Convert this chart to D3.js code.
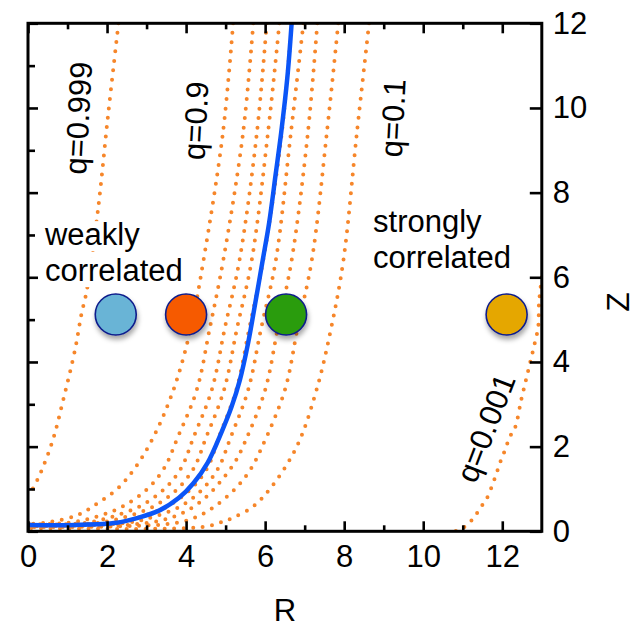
<!DOCTYPE html>
<html><head><meta charset="utf-8">
<script src="https://cdn.jsdelivr.net/npm/d3@7"></script>
<style>
body{margin:0;background:#fff}
text{font-family:"Liberation Sans",Arial,Helvetica,sans-serif;fill:#000}
</style>
</head><body>
<svg id="c" width="635" height="629"></svg>
<script>
// ---- data ----
const xMajor = [0, 2, 4, 6, 8, 10, 12];
const xMinor = [1, 3, 5, 7, 9, 11];
const yMajor = [0, 2, 4, 6, 8, 10, 12];
const yMinor = [1, 3, 5, 7, 9, 11];

// dotted orange quantile curves, [R, Z]
const q0999 = [[2.29,12],[2.02,9.78],[1.77,7.59],[1.49,5.70],[1.35,5.12],[1.19,4.29],[0.89,3.1],[0.63,2.16],[0.35,1.45],[0.13,1.02],[0,0.85]];
const q09 = [[5.19,12],[4.93,9.4],[4.44,6.4],[4.12,4.8],[3.68,3.34],[3.16,2.2],[2.71,1.5],[2.28,1.02],[1.77,0.67],[1.27,0.39],[0.56,0.22],[0,0.17]];
const q08 = [[5.70,12],[5.44,9.4],[4.94,6.4],[4.60,4.8],[4.27,3.34],[3.78,2.2],[3.45,1.5],[3.02,1.0],[2.42,0.6],[1.75,0.35],[1.0,0.2],[0,0.16]];
const q07 = [[6.04,12],[5.79,9.4],[5.35,6.4],[4.98,4.8],[4.65,3.34],[4.18,2.2],[3.88,1.5],[3.45,1.0],[2.85,0.6],[2.15,0.35],[1.45,0.2],[0,0.15]];
const q06 = [[6.36,12],[6.07,9.4],[5.66,6.4],[5.29,4.8],[4.96,3.34],[4.50,2.2],[4.20,1.5],[3.78,1.0],[3.20,0.6],[2.50,0.35],[1.80,0.2],[0,0.14]];
const q05 = [[6.67,12],[6.42,9.4],[5.95,6.4],[5.60,4.8],[5.27,3.34],[4.82,2.2],[4.54,1.5],[4.12,1.0],[3.55,0.6],[2.88,0.35],[2.24,0.2],[0,0.13]];
const q04 = [[6.97,12],[6.65,9.4],[6.27,6.4],[5.90,4.8],[5.57,3.34],[5.12,2.2],[4.82,1.5],[4.42,1.0],[3.88,0.6],[3.20,0.35],[2.50,0.2],[0,0.12]];
const q03 = [[7.32,12],[7.08,9.4],[6.67,6.4],[6.32,4.8],[6.00,3.34],[5.49,2.11],[5.24,1.64],[4.90,1.21],[4.48,0.79],[3.97,0.46],[3.42,0.27],[2.5,0.15],[0,0.11]];
const q02 = [[7.85,12],[7.56,9.4],[7.18,6.4],[6.82,4.8],[6.50,3.34],[5.91,1.97],[5.62,1.45],[5.26,1.02],[4.77,0.62],[4.27,0.34],[3.76,0.2],[2.8,0.13],[0,0.1]];
const q01 = [[8.63,12],[8.32,9.4],[7.98,6.4],[7.67,4.8],[7.30,3.34],[6.80,2.0],[6.12,1.0],[5.67,0.57],[5.16,0.31],[4.91,0.22],[4.4,0.1],[0,0.08]];
const q0001 = [[13.0,6.0],[12.93,5.4],[12.91,4.83],[12.83,4.48],[12.66,3.81],[12.49,3.15],[12.32,2.44],[12.19,2.23],[12.07,1.92],[11.94,1.61],[11.82,1.28],[11.61,0.78],[11.44,0.55],[11.27,0.31],[11.01,0.08],[10.80,0]];
const quantileCurves = [q0999, q09, q08, q07, q06, q05, q04, q03, q02, q01, q0001];

// solid blue curve, [R, Z]
const blueCurve = [[0,0.15],[1.2,0.15],[2.24,0.2],[2.75,0.31],[3.34,0.5],[3.82,0.79],[4.19,1.14],[4.54,1.61],[4.90,2.35],[5.15,2.94],[5.36,3.57],[5.57,4.45],[5.75,5.39],[5.94,6.41],[6.10,7.28],[6.27,8.46],[6.41,9.45],[6.56,10.7],[6.67,12]];

// circles
const circleR = [2.22, 4.0, 6.53, 12.11];
const circleZ = [5.12, 5.12, 5.12, 5.12];
const circleColors = ["#69B4D6", "#F65A05", "#2C9C0B", "#E5A705"];

// labels
const qLabels = ["q=0.999", "q=0.9", "q=0.1", "q=0.001"];
const qLabelPos = [[1.28, 9.76], [4.25, 9.7], [9.24, 9.76], [11.59, 2.44]];
const qLabelRot = [-87, -87, -87, -69];
const weakLines = ["weakly", "correlated"];
const strongLines = ["strongly", "correlated"];

// ---- drawing ----
const svg = d3.select("#c");
const L = 28, R = 541.8, T = 23.3, B = 531.3;
const x = d3.scaleLinear().domain([0, 13]).range([L, R]);
const y = d3.scaleLinear().domain([0, 12]).range([B, T]);

const defs = svg.append("defs");
defs.append("clipPath").attr("id", "clip")
  .append("rect").attr("x", L).attr("y", T).attr("width", R - L).attr("height", B - T);
const f = defs.append("filter").attr("id", "shadow")
  .attr("x", "-50%").attr("y", "-50%").attr("width", "200%").attr("height", "200%");
f.append("feDropShadow").attr("dx", 1).attr("dy", 4).attr("stdDeviation", 2.5)
  .attr("flood-color", "#000").attr("flood-opacity", 0.35);

const line = d3.line().x(d => x(d[0])).y(d => y(d[1])).curve(d3.curveCatmullRom.alpha(0.5));

const plot = svg.append("g").attr("clip-path", "url(#clip)");
plot.selectAll("path.q").data(quantileCurves).join("path")
  .attr("class", "q")
  .attr("d", line)
  .attr("fill", "none")
  .attr("stroke", "#F6862A")
  .attr("stroke-width", 4)
  .attr("stroke-linecap", "round")
  .attr("stroke-dasharray", "0 9.5");

plot.append("path").datum(blueCurve)
  .attr("d", line)
  .attr("fill", "none")
  .attr("stroke", "#0B55F7")
  .attr("stroke-width", 4.5)
  .attr("stroke-linecap", "round");

// text annotations with white backgrounds
const fs = 31;
function block(lines, r0, z0, dz) {
  lines.forEach((s, i) => {
    const tx = x(r0), ty = y(z0 - i * dz);
    const t = svg.append("text").attr("x", tx).attr("y", ty)
      .attr("font-size", fs).text(s);
    const w = t.node().getComputedTextLength();
    svg.insert("rect", "text").attr("x", tx - 1).attr("y", ty - 24)
      .attr("width", w + 2).attr("height", 30).attr("fill", "#fff");
  });
}
block(weakLines, 0.43, 6.76, 0.85);
block(strongLines, 8.73, 7.08, 0.87);

qLabels.forEach((s, i) => {
  svg.append("text")
    .attr("transform", `translate(${x(qLabelPos[i][0])},${y(qLabelPos[i][1])}) rotate(${qLabelRot[i]})`)
    .attr("text-anchor", "middle")
    .attr("dominant-baseline", "central")
    .attr("font-size", fs).text(s);
});

// circles
svg.append("g").selectAll("circle").data(circleR).join("circle")
  .attr("cx", d => x(d))
  .attr("cy", (d, i) => y(circleZ[i]))
  .attr("r", 20.5)
  .attr("fill", (d, i) => circleColors[i])
  .attr("stroke", "#0F1E8C")
  .attr("stroke-width", 1.6)
  .attr("filter", "url(#shadow)");

// axes
function styleAxis(g, w) {
  g.select(".domain").remove();
  g.selectAll(".tick line").attr("stroke", "#000").attr("stroke-width", w);
  g.selectAll(".tick text").attr("font-size", 31).attr("font-family", "Liberation Sans, Arial, sans-serif").attr("fill", "#000");
}
const tw = 2.6;
svg.append("g").attr("transform", `translate(0,${B})`)
  .call(d3.axisBottom(x).tickValues(xMajor).tickSize(-10).tickPadding(14).tickFormat(d3.format("d")))
  .call(g => styleAxis(g, tw));
svg.append("g").attr("transform", `translate(0,${B})`)
  .call(d3.axisBottom(x).tickValues(xMinor).tickSize(-6).tickFormat(""))
  .call(g => styleAxis(g, tw));
svg.append("g").attr("transform", `translate(0,${T})`)
  .call(d3.axisTop(x).tickValues(xMajor).tickSize(-10).tickFormat(""))
  .call(g => styleAxis(g, tw));
svg.append("g").attr("transform", `translate(0,${T})`)
  .call(d3.axisTop(x).tickValues(xMinor).tickSize(-6).tickFormat(""))
  .call(g => styleAxis(g, tw));
svg.append("g").attr("transform", `translate(${L},0)`)
  .call(d3.axisLeft(y).tickValues(yMajor).tickSize(-10).tickFormat(""))
  .call(g => styleAxis(g, tw));
svg.append("g").attr("transform", `translate(${L},0)`)
  .call(d3.axisLeft(y).tickValues(yMinor).tickSize(-7).tickFormat(""))
  .call(g => styleAxis(g, tw));
svg.append("g").attr("transform", `translate(${R},0)`)
  .call(d3.axisRight(y).tickValues(yMajor).tickSize(-12).tickPadding(11).tickFormat(d3.format("d")))
  .call(g => styleAxis(g, tw));

// frame
svg.append("rect").attr("x", L).attr("y", T).attr("width", R - L).attr("height", B - T)
  .attr("fill", "none").attr("stroke", "#000").attr("stroke-width", 3);

// axis titles
svg.append("text").attr("x", (L + R) / 2).attr("y", 621).attr("text-anchor", "middle")
  .attr("font-size", 31).text("R");
svg.append("text").attr("transform", "translate(618,302) rotate(-90)")
  .attr("text-anchor", "middle").attr("dominant-baseline", "central")
  .attr("font-size", 32).text("Z");
</script>
</body></html>
